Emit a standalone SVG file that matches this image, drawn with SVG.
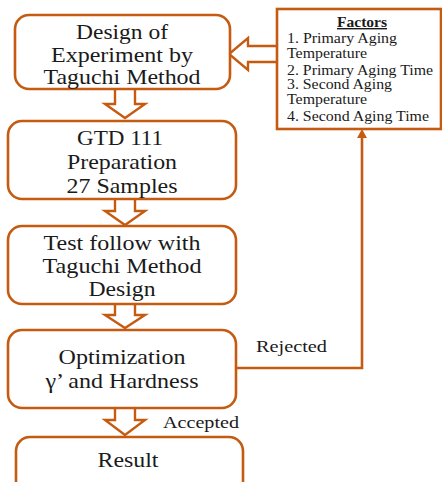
<svg xmlns="http://www.w3.org/2000/svg" width="442" height="482" viewBox="0 0 442 482">
<style>
.box{fill:#fff;stroke:#C55A11;stroke-width:2.6}
.blk{fill:#fff;stroke:#C55A11;stroke-width:2.4;stroke-linejoin:miter}
.ln{fill:none;stroke:#C55A11;stroke-width:2.6}
.bt{font-family:'Liberation Serif','Times New Roman',serif;font-size:21px;fill:#1a1a1a;text-anchor:middle}
.f{font-family:'Liberation Serif','Times New Roman',serif;font-size:14px;fill:#1a1a1a}
.lbl{font-family:'Liberation Serif','Times New Roman',serif;font-size:17px;fill:#1a1a1a}
</style>
<rect width="442" height="482" fill="#fff"/>
<g id="connectors">
<path class="blk" d="M115,89 V104 H105 L125,118 L145,104 H135 V89"/>
<path class="blk" d="M115,199 V211 H105 L125,225 L145,211 H135 V199"/>
<path class="blk" d="M115,304 V315 H105 L125,328 L145,315 H135 V304"/>
<path class="blk" d="M115,408 V420 H105 L125,435 L145,420 H135 V408"/>
<path class="blk" d="M277,46 H248 V38 L229,54 L248,70 V62 H277"/>
<polyline class="ln" points="236,368 362,368 362,136"/>
<polygon points="362,129 357,138 367,138" fill="#C55A11"/>
<text class="lbl" x="256" y="352" textLength="71" lengthAdjust="spacingAndGlyphs">Rejected</text>
<text class="lbl" x="163" y="428" textLength="76" lengthAdjust="spacingAndGlyphs">Accepted</text>
</g>
<g id="node-design">
<rect class="box" x="15" y="15" width="215" height="74" rx="14"/>
<text class="bt" x="122" y="39" textLength="92" lengthAdjust="spacingAndGlyphs">Design of</text>
<text class="bt" x="122" y="62" textLength="142" lengthAdjust="spacingAndGlyphs">Experiment by</text>
<text class="bt" x="122" y="84" textLength="157" lengthAdjust="spacingAndGlyphs">Taguchi Method</text>
</g>
<g id="node-gtd">
<rect class="box" x="8" y="121" width="228" height="78" rx="14"/>
<text class="bt" x="120" y="145" textLength="86" lengthAdjust="spacingAndGlyphs">GTD 111</text>
<text class="bt" x="122" y="169" textLength="110" lengthAdjust="spacingAndGlyphs">Preparation</text>
<text class="bt" x="122" y="193" textLength="111" lengthAdjust="spacingAndGlyphs">27 Samples</text>
</g>
<g id="node-test">
<rect class="box" x="8" y="226" width="228" height="78" rx="14"/>
<text class="bt" x="122" y="250" textLength="157" lengthAdjust="spacingAndGlyphs">Test follow with</text>
<text class="bt" x="122" y="273" textLength="159" lengthAdjust="spacingAndGlyphs">Taguchi Method</text>
<text class="bt" x="122" y="296" textLength="67" lengthAdjust="spacingAndGlyphs">Design</text>
</g>
<g id="node-opt">
<rect class="box" x="8" y="330" width="228" height="78" rx="14"/>
<text class="bt" x="122" y="364" textLength="127" lengthAdjust="spacingAndGlyphs">Optimization</text>
<text class="bt" x="122" y="388" textLength="153" lengthAdjust="spacingAndGlyphs">γ’ and Hardness</text>
</g>
<g id="node-result">
<rect class="box" x="16" y="437" width="227" height="64" rx="14"/>
<text class="bt" x="128" y="467" textLength="61" lengthAdjust="spacingAndGlyphs">Result</text>
</g>
<g id="node-factors">
<rect class="box" x="277" y="9" width="164" height="120"/>
<text class="f" x="362" y="27" text-anchor="middle" font-weight="bold" text-decoration="underline" textLength="50" lengthAdjust="spacingAndGlyphs">Factors</text>
<text class="f" x="287" y="43" textLength="110" lengthAdjust="spacingAndGlyphs">1. Primary Aging</text>
<text class="f" x="287" y="58" textLength="80" lengthAdjust="spacingAndGlyphs">Temperature</text>
<text class="f" x="287" y="75" textLength="146" lengthAdjust="spacingAndGlyphs">2. Primary Aging Time</text>
<text class="f" x="287" y="89" textLength="105" lengthAdjust="spacingAndGlyphs">3. Second Aging</text>
<text class="f" x="287" y="104" textLength="80" lengthAdjust="spacingAndGlyphs">Temperature</text>
<text class="f" x="287" y="121" textLength="142" lengthAdjust="spacingAndGlyphs">4. Second Aging Time</text>
</g>
</svg>
